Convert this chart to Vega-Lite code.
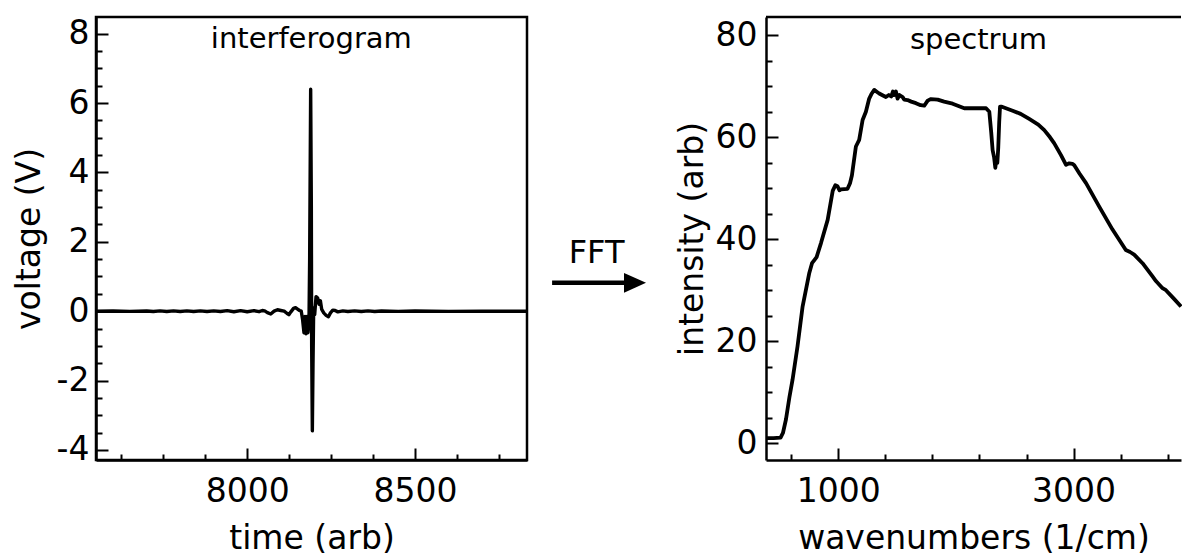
{
  "$schema": "https://vega.github.io/schema/vega-lite/v6.json",
  "autosize": {"type": "pad"},
  "padding": {"left": 11, "top": 15, "right": 0, "bottom": 0},
  "spacing": 0,
  "bounds": "flush",
  "background": "white",
  "config": {
    "view": {"stroke": null},
    "font": "DejaVu Sans",
    "axis": {
      "labelFont": "DejaVu Sans", "labelFontSize": 33, "labelColor": "black",
      "titleFont": "DejaVu Sans", "titleFontSize": 33, "titleFontWeight": "normal", "titleColor": "black",
      "tickColor": "black", "tickWidth": 2, "domainColor": "black", "domainWidth": 2.5,
      "grid": false, "labelFlush": false, "labelOverlap": false
    }
  },
  "datasets": {
    "interferogram": [
      {"time": 7549, "voltage": 0}, {"time": 7600, "voltage": 0.005}, {"time": 7650, "voltage": -0.005}, {"time": 7700, "voltage": 0.005},
      {"time": 7720, "voltage": -0.01}, {"time": 7740, "voltage": 0.01}, {"time": 7760, "voltage": -0.01}, {"time": 7780, "voltage": 0.01},
      {"time": 7800, "voltage": -0.01}, {"time": 7820, "voltage": 0.01}, {"time": 7840, "voltage": -0.01}, {"time": 7860, "voltage": 0.01},
      {"time": 7880, "voltage": -0.01}, {"time": 7900, "voltage": 0.01}, {"time": 7920, "voltage": -0.01}, {"time": 7940, "voltage": 0.015},
      {"time": 7960, "voltage": -0.015}, {"time": 7980, "voltage": 0.015}, {"time": 8000, "voltage": -0.015}, {"time": 8020, "voltage": 0.015},
      {"time": 8035, "voltage": -0.015}, {"time": 8045, "voltage": 0.02},
      {"time": 8052, "voltage": 0.01}, {"time": 8060, "voltage": -0.04}, {"time": 8070, "voltage": -0.08}, {"time": 8080, "voltage": 0.0},
      {"time": 8090, "voltage": 0.04}, {"time": 8100, "voltage": 0.02}, {"time": 8110, "voltage": 0.0}, {"time": 8118, "voltage": -0.06},
      {"time": 8124, "voltage": -0.1}, {"time": 8130, "voltage": -0.02}, {"time": 8138, "voltage": 0.08}, {"time": 8144, "voltage": 0.1},
      {"time": 8150, "voltage": 0.06}, {"time": 8156, "voltage": 0.02}, {"time": 8161, "voltage": 0.0}, {"time": 8165, "voltage": -0.25},
      {"time": 8169, "voltage": -0.62}, {"time": 8172, "voltage": -0.15}, {"time": 8175, "voltage": -0.65}, {"time": 8178, "voltage": -0.15},
      {"time": 8181, "voltage": -0.62}, {"time": 8184, "voltage": -0.3}, {"time": 8186, "voltage": 1.5}, {"time": 8189, "voltage": 6.4},
      {"time": 8191, "voltage": 3.0}, {"time": 8192, "voltage": -1.0}, {"time": 8194, "voltage": -3.45}, {"time": 8196, "voltage": -1.5},
      {"time": 8198, "voltage": 0.1}, {"time": 8201, "voltage": -0.1}, {"time": 8205, "voltage": 0.42}, {"time": 8210, "voltage": 0.38},
      {"time": 8214, "voltage": 0.2}, {"time": 8218, "voltage": 0.3}, {"time": 8222, "voltage": 0.05}, {"time": 8228, "voltage": -0.05},
      {"time": 8235, "voltage": -0.12}, {"time": 8242, "voltage": -0.16}, {"time": 8248, "voltage": -0.05}, {"time": 8255, "voltage": 0.03},
      {"time": 8262, "voltage": 0.02}, {"time": 8270, "voltage": -0.02}, {"time": 8285, "voltage": 0.01}, {"time": 8300, "voltage": -0.01},
      {"time": 8320, "voltage": 0.01}, {"time": 8340, "voltage": -0.01}, {"time": 8360, "voltage": 0.01}, {"time": 8380, "voltage": -0.01},
      {"time": 8400, "voltage": 0.005}, {"time": 8450, "voltage": -0.005}, {"time": 8500, "voltage": 0.005}, {"time": 8600, "voltage": -0.005},
      {"time": 8700, "voltage": 0.0}, {"time": 8834, "voltage": 0.0}
    ],
    "spectrum": [
      {"wavenumber": 386, "intensity": 1.0}, {"wavenumber": 450, "intensity": 1.0}, {"wavenumber": 510, "intensity": 1.1},
      {"wavenumber": 530, "intensity": 2.0}, {"wavenumber": 556, "intensity": 4.7}, {"wavenumber": 585, "intensity": 9.0},
      {"wavenumber": 612, "intensity": 12.5}, {"wavenumber": 654, "intensity": 19.0}, {"wavenumber": 697, "intensity": 26.8},
      {"wavenumber": 754, "intensity": 33.4}, {"wavenumber": 777, "intensity": 35.3}, {"wavenumber": 800, "intensity": 36.0},
      {"wavenumber": 816, "intensity": 36.5}, {"wavenumber": 854, "intensity": 39.3}, {"wavenumber": 910, "intensity": 43.8},
      {"wavenumber": 953, "intensity": 49.5}, {"wavenumber": 975, "intensity": 50.6}, {"wavenumber": 994, "intensity": 50.4},
      {"wavenumber": 1010, "intensity": 49.6}, {"wavenumber": 1023, "intensity": 49.8}, {"wavenumber": 1079, "intensity": 49.9},
      {"wavenumber": 1100, "intensity": 51.0}, {"wavenumber": 1116, "intensity": 52.5}, {"wavenumber": 1150, "intensity": 58.2},
      {"wavenumber": 1178, "intensity": 59.5}, {"wavenumber": 1207, "intensity": 63.4}, {"wavenumber": 1235, "intensity": 65.0},
      {"wavenumber": 1263, "intensity": 67.6}, {"wavenumber": 1285, "intensity": 68.6}, {"wavenumber": 1306, "intensity": 69.3},
      {"wavenumber": 1330, "intensity": 68.9}, {"wavenumber": 1348, "intensity": 68.6}, {"wavenumber": 1380, "intensity": 68.2},
      {"wavenumber": 1405, "intensity": 67.9}, {"wavenumber": 1430, "intensity": 68.3}, {"wavenumber": 1450, "intensity": 68.0},
      {"wavenumber": 1465, "intensity": 69.0}, {"wavenumber": 1476, "intensity": 68.3}, {"wavenumber": 1490, "intensity": 69.0},
      {"wavenumber": 1504, "intensity": 67.6}, {"wavenumber": 1520, "intensity": 68.3}, {"wavenumber": 1547, "intensity": 67.9},
      {"wavenumber": 1560, "intensity": 67.4}, {"wavenumber": 1589, "intensity": 67.3}, {"wavenumber": 1620, "intensity": 67.0},
      {"wavenumber": 1660, "intensity": 66.7}, {"wavenumber": 1700, "intensity": 66.3}, {"wavenumber": 1731, "intensity": 66.2},
      {"wavenumber": 1760, "intensity": 67.2}, {"wavenumber": 1788, "intensity": 67.5}, {"wavenumber": 1845, "intensity": 67.4},
      {"wavenumber": 1900, "intensity": 67.0}, {"wavenumber": 1972, "intensity": 66.6}, {"wavenumber": 2071, "intensity": 65.7},
      {"wavenumber": 2171, "intensity": 65.7}, {"wavenumber": 2256, "intensity": 65.7}, {"wavenumber": 2284, "intensity": 65.0},
      {"wavenumber": 2300, "intensity": 61.0}, {"wavenumber": 2312, "intensity": 57.5}, {"wavenumber": 2325, "intensity": 56.0},
      {"wavenumber": 2335, "intensity": 54.0}, {"wavenumber": 2345, "intensity": 56.0}, {"wavenumber": 2352, "intensity": 55.0},
      {"wavenumber": 2360, "intensity": 58.0}, {"wavenumber": 2368, "intensity": 63.0}, {"wavenumber": 2375, "intensity": 66.0},
      {"wavenumber": 2391, "intensity": 66.0}, {"wavenumber": 2482, "intensity": 65.2}, {"wavenumber": 2550, "intensity": 64.6},
      {"wavenumber": 2623, "intensity": 63.6}, {"wavenumber": 2700, "intensity": 62.5}, {"wavenumber": 2751, "intensity": 61.4},
      {"wavenumber": 2800, "intensity": 60.0}, {"wavenumber": 2836, "intensity": 58.8}, {"wavenumber": 2893, "intensity": 56.5},
      {"wavenumber": 2936, "intensity": 54.6}, {"wavenumber": 2963, "intensity": 54.9}, {"wavenumber": 2990, "intensity": 54.8},
      {"wavenumber": 3006, "intensity": 54.5}, {"wavenumber": 3050, "intensity": 52.9}, {"wavenumber": 3106, "intensity": 51.0},
      {"wavenumber": 3218, "intensity": 46.4}, {"wavenumber": 3331, "intensity": 41.9}, {"wavenumber": 3444, "intensity": 37.9},
      {"wavenumber": 3480, "intensity": 37.5}, {"wavenumber": 3515, "intensity": 37.0}, {"wavenumber": 3586, "intensity": 35.3},
      {"wavenumber": 3671, "intensity": 32.7}, {"wavenumber": 3700, "intensity": 31.8}, {"wavenumber": 3756, "intensity": 30.4},
      {"wavenumber": 3785, "intensity": 30.0}, {"wavenumber": 3850, "intensity": 28.4}, {"wavenumber": 3913, "intensity": 26.8}
    ]
  },
  "hconcat": [
    {
      "width": 431,
      "height": 443,
      "view": {"stroke": "black", "strokeWidth": 2.5},
      "layer": [
        {
          "data": {"name": "interferogram"},
          "mark": {"type": "line", "color": "black", "strokeWidth": 3.4, "strokeJoin": "round"},
          "encoding": {
            "x": {"field": "time", "type": "quantitative", "scale": {"domain": [7549, 8834], "nice": false, "zero": false},
                  "axis": {"title": "time (arb)", "orient": "bottom", "values": [8000, 8500], "tickSize": -12, "labelPadding": 27, "titlePadding": 14, "labelExpr": "'' + datum.value"}},
            "y": {"field": "voltage", "type": "quantitative", "scale": {"domain": [-4.29, 8.48], "nice": false, "zero": false},
                  "axis": {"title": "voltage (V)", "orient": "left", "values": [-4, -2, 0, 2, 4, 6, 8], "tickSize": -12, "labelPadding": 19, "titlePadding": 10, "labelExpr": "'' + datum.value"}}
          }
        },
        {
          "data": {"name": "interferogram"},
          "mark": {"type": "line", "opacity": 0},
          "encoding": {
            "x": {"field": "time", "type": "quantitative",
                  "axis": {"title": null, "orient": "bottom", "values": [7625, 7750, 7875, 8125, 8250, 8375, 8625, 8750], "tickSize": -6, "labels": false, "domain": false}},
            "y": {"field": "voltage", "type": "quantitative",
                  "axis": {"title": null, "orient": "left", "values": [-3.5, -3, -2.5, -1.5, -1, -0.5, 0.5, 1, 1.5, 2.5, 3, 3.5, 4.5, 5, 5.5, 6.5, 7, 7.5], "tickSize": -6, "labels": false, "domain": false}}
          }
        },
        {
          "data": {"values": [{"label": "interferogram"}]},
          "mark": {"type": "text", "fontSize": 29, "align": "center", "baseline": "alphabetic", "color": "black"},
          "encoding": {
            "x": {"datum": 8191, "type": "quantitative", "axis": null},
            "y": {"datum": 7.59, "type": "quantitative", "axis": null},
            "text": {"field": "label"}
          }
        }
      ],
      "resolve": {"axis": {"x": "independent", "y": "independent"}}
    },
    {
      "width": 239,
      "height": 443,
      "data": {"values": [{"label": "FFT"}]},
      "layer": [
        {
          "mark": {"type": "text", "fontSize": 32, "align": "center", "baseline": "alphabetic", "color": "black"},
          "encoding": {
            "x": {"datum": 0.291, "type": "quantitative", "scale": {"domain": [0, 1], "nice": false, "zero": false}, "axis": null},
            "y": {"datum": 0.445, "type": "quantitative", "scale": {"domain": [0, 1], "nice": false, "zero": false}, "axis": null},
            "text": {"field": "label"}
          }
        },
        {
          "mark": {"type": "rule", "color": "black", "strokeWidth": 4.5},
          "encoding": {
            "x": {"datum": 0.105, "type": "quantitative"},
            "x2": {"datum": 0.44},
            "y": {"datum": 0.4, "type": "quantitative"}
          }
        },
        {
          "mark": {"type": "point", "shape": "M -1 -0.9 L 1 0 L -1 0.9 Z", "size": 484, "filled": true, "color": "black", "opacity": 1},
          "encoding": {
            "x": {"datum": 0.452, "type": "quantitative"},
            "y": {"datum": 0.4, "type": "quantitative"}
          }
        }
      ]
    },
    {
      "width": 415,
      "height": 443,
      "layer": [
        {
          "data": {"name": "spectrum"},
          "mark": {"type": "line", "color": "black", "strokeWidth": 3.8, "strokeJoin": "round"},
          "encoding": {
            "x": {"field": "wavenumber", "type": "quantitative", "scale": {"domain": [386, 3913], "nice": false, "zero": false},
                  "axis": {"title": "wavenumbers (1/cm)", "orient": "bottom", "values": [1000, 3000], "tickSize": -12, "labelPadding": 27, "titlePadding": 14, "labelExpr": "'' + datum.value"}},
            "y": {"field": "intensity", "type": "quantitative", "scale": {"domain": [-3.3, 83.6], "nice": false, "zero": false},
                  "axis": {"title": "intensity (arb)", "orient": "left", "values": [0, 20, 40, 60, 80], "tickSize": -12, "labelPadding": 21, "titlePadding": 6, "labelExpr": "'' + datum.value"}}
          }
        },
        {
          "data": {"name": "spectrum"},
          "mark": {"type": "line", "opacity": 0},
          "encoding": {
            "x": {"field": "wavenumber", "type": "quantitative",
                  "axis": {"title": null, "orient": "bottom", "values": [600, 1400, 1800, 2200, 2600, 3400, 3800], "tickSize": -6, "labels": false, "domain": false}},
            "y": {"field": "intensity", "type": "quantitative",
                  "axis": {"title": null, "orient": "left", "values": [5, 10, 15, 25, 30, 35, 45, 50, 55, 65, 70, 75], "tickSize": -6, "labels": false, "domain": false}}
          }
        },
        {
          "data": {"values": [{"label": "spectrum"}]},
          "mark": {"type": "rule", "color": "black", "strokeWidth": 2.5},
          "encoding": {
            "y": {"datum": 83.6, "type": "quantitative", "axis": null}
          }
        },
        {
          "data": {"values": [{"label": "spectrum"}]},
          "mark": {"type": "text", "fontSize": 29, "align": "center", "baseline": "alphabetic", "color": "black"},
          "encoding": {
            "x": {"datum": 2192, "type": "quantitative", "axis": null},
            "y": {"datum": 77.4, "type": "quantitative", "axis": null},
            "text": {"field": "label"}
          }
        }
      ],
      "resolve": {"axis": {"x": "independent", "y": "independent"}}
    }
  ]
}
